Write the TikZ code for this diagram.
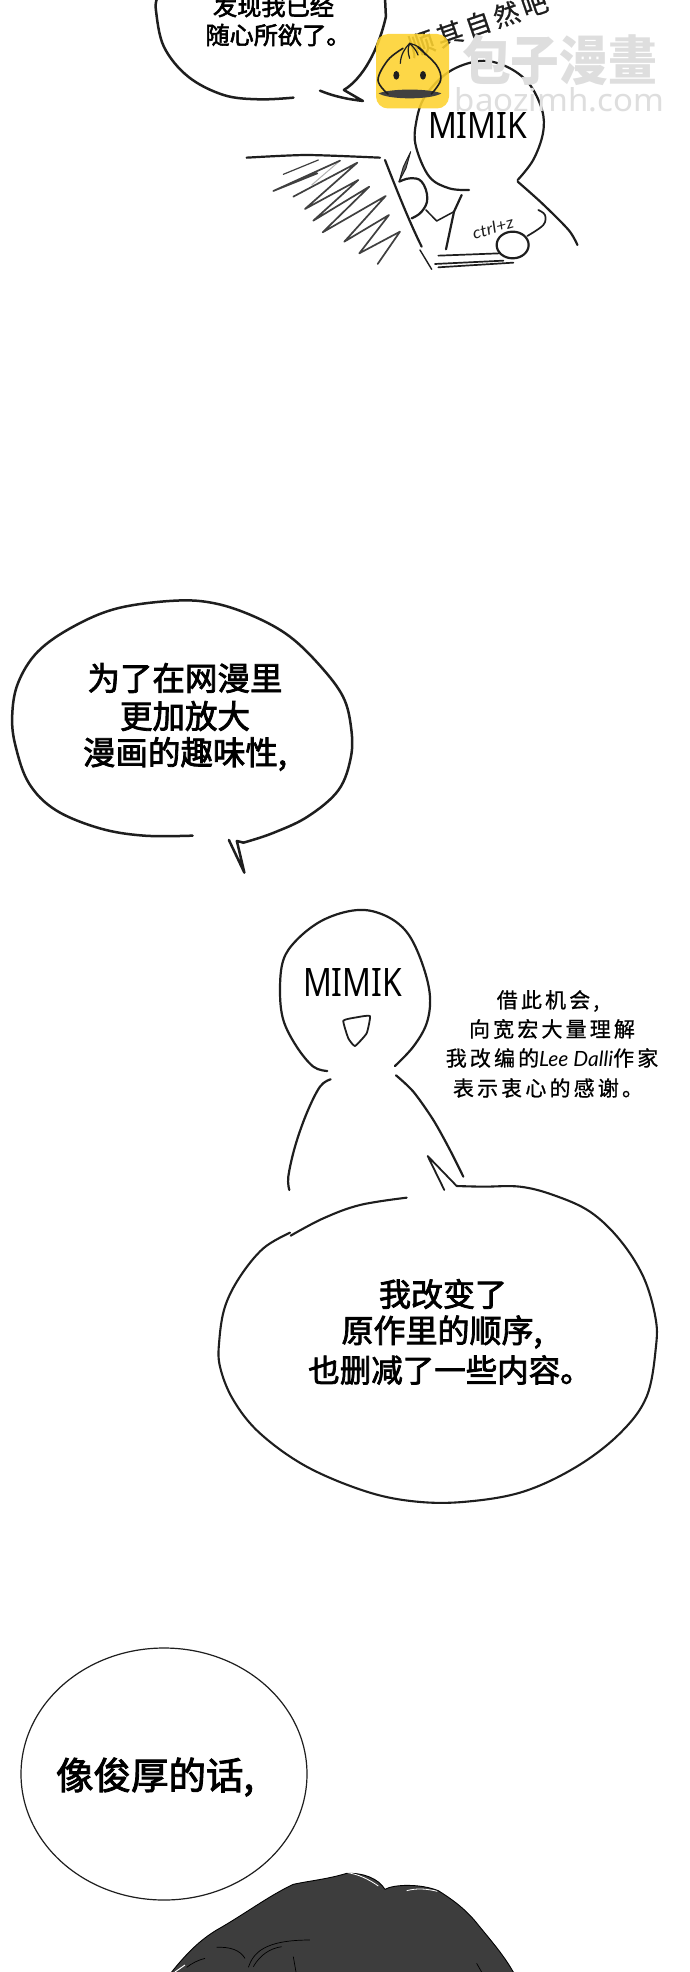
\documentclass[tikz,border=0pt]{standalone}
\usepackage{fontspec}
\setmainfont{Noto Sans}
\newfontfamily\cjkm[FakeBold=2.4]{Noto Sans CJK SC}
\newfontfamily\cjkh[LetterSpace=15,FakeBold=0.8]{Noto Sans CJK SC}
\newfontfamily\cjkwm{Noto Sans CJK SC}
\newfontfamily\latw[ItalicFont=Lato Italic]{Lato}
\newcommand\pxsize[1]{\fontsize{#1pt}{#1pt}\selectfont}
\definecolor{ink}{HTML}{1E1E1E}
\definecolor{hairfill}{HTML}{3D3D3D}
\definecolor{bunyellow}{HTML}{FDD22E}
\definecolor{wmgray}{HTML}{DEDEDE}
\tikzset{
  x=1pt,y=-1pt,
  balloon/.style={draw=ink,line width=2.5pt,line cap=round,line join=round},
  sketch/.style={draw=ink,line width=2.2pt,line cap=round,line join=round},
  speech/.style={inner sep=0pt,text=black},
  handtext/.style={inner sep=0pt,text=black},
  scribble/.style={draw=ink!85!white,line width=1.7pt,line cap=round,line join=round},
  cropA/.style={shift={(-2,0)},xscale=0.4423,yscale=0.3333},
  cropB/.style={shift={(-2,580)},xscale=0.4423,yscale=0.3333},
  cropC/.style={shift={(200,890)},xscale=0.3333,yscale=0.3333},
  cropD/.style={shift={(200,1170)},xscale=0.3333,yscale=0.3333},
  cropE/.style={shift={(150,1850)},xscale=0.3333,yscale=0.3333},
  cropF/.style={shift={(380,140)},xscale=0.3333,yscale=0.3333},
  cropG/.style={shift={(368,0)},xscale=0.3333,yscale=0.3333},
  cropH/.style={shift={(240,140)},xscale=0.3333,yscale=0.3333},
}
\begin{document}
\begin{tikzpicture}
\useasboundingbox (0,0) rectangle (690,1972);
\fill[white] (0,0) rectangle (690,1972);

% top balloon
\begin{scope}[cropA]
\draw[balloon] plot[smooth,tension=.6] coordinates {(360,-5)(357,30)(375,140)(430,230)(510,285)(590,298)(668,293)};
\draw[balloon] (728,272) .. controls (765,292) and (795,298) .. (825,303) -- (782,270)
  .. controls (825,235) and (860,150) .. (877,50) -- (875,-5);
\end{scope}
\node[speech,font=\cjkm\pxsize{24.2}] (t1a) at (273.5,6) {发现我已经};
\node[speech,font=\cjkm\pxsize{24.2}] (t1b) at (278,35) {随心所欲了。};

% handwritten remark behind the badge
\node[handtext,font=\cjkh\pxsize{26},rotate=19,text=ink] (t2) at (478,24) {顺其自然吧};

% sketch character at the desk
\begin{scope}[cropA]
\draw[sketch] plot[smooth,tension=.6] coordinates {(1065,570)(1020,565)(975,530)(945,440)(945,370)(965,290)(1020,215)(1090,183)(1150,200)(1200,250)(1230,330)(1232,400)(1210,480)(1175,540)};
\draw[sketch] plot[smooth,tension=.5] coordinates {(1175,545)(1230,610)(1290,690)(1310,735)};
\end{scope}
\begin{scope}[cropH]
\draw[sketch] plot[smooth,tension=.4] coordinates {(20,53)(200,45)(420,53)};
\draw[scribble,line width=1.2pt] (235,60) -- (130,103);
\draw[scribble,draw=ink!35!white,line width=1pt] (300,62) -- (215,135);
\draw[scribble,draw=ink!35!white,line width=1pt] (300,62) -- (100,153);
\draw[scribble] (300,62) -- (100,153) -- (232,100);
\draw[scribble] (160,170) -- (352,68) -- (195,207) -- (355,120) -- (220,242) -- (388,140) -- (248,277) -- (437,168) -- (313,305) -- (447,225) -- (358,340) -- (480,275) -- (413,372);
\end{scope}
\begin{scope}[cropF]
\draw[sketch] (15,60) .. controls (50,150) and (90,250) .. (125,320);
\draw[sketch,line width=1.4pt] (120,330) -- (155,388);
\filldraw[sketch,line width=.9pt,fill=ink!70!white] (92,35) -- (70,80) -- (57,125) -- (78,85) -- cycle;
\draw[sketch] plot[smooth,tension=.7] coordinates {(58,125)(90,115)(125,125)(142,175)(125,215)(95,235)};
\draw[sketch,line width=1.5pt] (138,210) -- (170,243) -- (222,215);
\draw[sketch] (245,165) -- (222,215) -- (198,328);
\draw[sketch,line width=1.7pt] plot[smooth,tension=.6] coordinates {(475,210)(495,225)(490,255)(442,288)};
\draw[sketch] (398,315) ellipse [x radius=48,y radius=40];
\draw[sketch,line width=1.7pt] (175,347) -- (360,340);
\draw[sketch,line width=1.7pt] (165,372) -- (370,362);
\draw[sketch,line width=1.7pt] (175,382) -- (400,368);
\end{scope}
\node[inner sep=0pt,rotate=16,text=ink] (t3) at (493,228) {\resizebox{42pt}{12pt}{\latw\itshape ctrl+z}};
\node[inner sep=0pt,text=black] (t4) at (477.5,125) {\resizebox{99pt}{26pt}{MIMIK}};

% badge
\fill[bunyellow,fill opacity=.88,rounded corners=12pt] (376,34) rectangle (449,108.5);
\begin{scope}[cropG]
\fill[ink!85!white] (32,280) .. controls (70,265) and (180,265) .. (220,280) .. controls (190,300) and (60,300) .. (32,280) -- cycle;
\draw[ink,line width=1.6pt,line cap=round] plot[smooth,tension=.6] coordinates {(105,145)(60,180)(30,240)(60,282)};
\draw[ink,line width=1.6pt,line cap=round] plot[smooth,tension=.6] coordinates {(150,142)(205,195)(218,240)(190,282)};
\draw[ink,line width=1.2pt,line cap=round] (125,130) .. controls (110,145) and (98,165) .. (97,190);
\draw[ink,line width=1.2pt,line cap=round] (125,130) .. controls (118,145) and (120,160) .. (125,175);
\draw[ink,line width=1.2pt,line cap=round] (125,130) .. controls (135,140) and (145,150) .. (150,165);
\draw[ink,line width=1.2pt,line cap=round] (125,130) .. controls (145,135) and (165,145) .. (172,165);
\fill[ink] (85,226) ellipse [x radius=9,y radius=13];
\fill[ink] (165,226) ellipse [x radius=9,y radius=13];
\end{scope}

% watermark
\node[inner sep=0pt,text=wmgray] (w1) at (559.5,60) {\resizebox{195pt}{46pt}{\cjkwm\bfseries 包子漫畫}};
\node[inner sep=0pt,text=wmgray] (w2) at (559.5,100) {\resizebox{209pt}{24pt}{baozimh.com}};

% second balloon
\begin{scope}[cropB]
\draw[balloon] plot[smooth,tension=.6] coordinates {(440,767)(330,767)(230,745)(130,690)(70,610)(40,500)(32,410)(45,310)(90,215)(170,140)(270,85)(400,62)(490,70)(580,110)(660,170)(730,260)(780,350)(798,440)(798,530)(770,630)(700,710)(620,760)(555,788)};
\draw[balloon] (555,788) -- (540,783) -- (557,878) -- (522,780);
\end{scope}
\node[speech,font=\cjkm\pxsize{32.5}] (t5a) at (185,678) {为了在网漫里};
\node[speech,font=\cjkm\pxsize{32.5}] (t5b) at (185,716) {更加放大};
\node[speech,font=\cjkm\pxsize{32.5}] (t5c) at (185,754) {漫画的趣味性,};

% standing character
\begin{scope}[cropC]
\draw[sketch] plot[smooth,tension=.6] coordinates {(382,543)(340,530)(290,470)(250,390)(240,300)(250,210)(290,150)(360,95)(440,65)(510,62)(580,90)(630,140)(670,230)(690,320)(680,400)(640,470)(585,528)};
\draw[sketch,line width=1.8pt] plot[smooth cycle,tension=.25] coordinates {(430,392)(470,382)(510,378)(500,430)(465,468)(445,445)};
\draw[sketch] plot[smooth,tension=.6] coordinates {(392,568)(360,590)(320,670)(285,770)(265,860)(268,900)};
\draw[sketch] plot[smooth,tension=.5] coordinates {(588,556)(640,605)(700,690)(750,780)(790,860)};
\draw[balloon,line width=1.8pt] (733,900) -- (683,798) -- (770,888);
\end{scope}
\node[inner sep=0pt,text=black] (t6) at (352.5,982) {\resizebox{99pt}{28pt}{MIMIK}};
\node[handtext,font=\cjkh\pxsize{21}] (t7a) at (548,1001) {借此机会,};
\node[handtext,font=\cjkh\pxsize{21}] (t7b) at (552,1029) {向宽宏大量理解};
\node[handtext,font=\cjkh\pxsize{21}] (t7c) at (552,1058) {我改编的{\latw\itshape Lee Dalli}作家};
\node[handtext,font=\cjkh\pxsize{21}] (t7d) at (548,1088) {表示衷心的感谢。};

% third balloon
\begin{scope}[cropD]
\draw[balloon,line width=2.1pt] plot[smooth,tension=.6] coordinates {(770,48)(850,50)(960,50)(1060,75)(1170,125)(1260,210)(1330,320)(1366,440)(1368,530)(1340,680)(1260,790)(1130,890)(970,965)(800,995)(650,995)(500,965)(320,890)(180,790)(100,690)(60,590)(58,510)(75,410)(120,320)(190,235)(270,188)};
\draw[balloon,line width=2.1pt] plot[smooth,tension=.6] coordinates {(272,197)(370,145)(480,105)(620,83)};
\end{scope}
\node[speech,font=\cjkm\pxsize{32}] (t8a) at (443,1294) {我改变了};
\node[speech,font=\cjkm\pxsize{32}] (t8b) at (442,1332) {原作里的顺序,};
\node[speech,font=\cjkm\pxsize{31.5}] (t8c) at (450,1370) {也删减了一些内容。};

% thin balloon
\draw[ink,line width=1.2pt] (164,1774) ellipse [x radius=143,y radius=126];
\node[speech,font=\cjkm\pxsize{37.5}] (t9) at (155,1777) {像俊厚的话,};

% hair
\begin{scope}[cropE]
\filldraw[fill=hairfill,draw=black,line width=.9pt,line join=round]
 (55,375) -- (65,366) .. controls (110,310) and (150,270) .. (200,240)
 .. controls (280,195) and (360,135) .. (430,103)
 .. controls (480,92) and (530,88) .. (590,70)
 .. controls (640,68) and (685,85) .. (705,118)
 .. controls (730,103) and (810,100) .. (865,122)
 .. controls (910,150) and (950,180) .. (985,225)
 .. controls (1030,280) and (1065,320) .. (1095,375) -- cycle;
\draw[white,line width=.8pt] (592,68) .. controls (625,72) and (660,90) .. (685,108);
\draw[white,line width=.8pt] (770,122) .. controls (800,114) and (830,116) .. (862,124);
\draw[black,line width=.7pt] (200,292) .. controls (240,290) and (270,300) .. (285,325);
\draw[black,line width=.7pt] (295,352) .. controls (310,310) and (340,270) .. (480,270);
\draw[black,line width=.7pt] (310,350) .. controls (330,315) and (360,295) .. (395,290);
\draw[black,line width=.7pt] (430,320) -- (438,366);
\draw[black,line width=.7pt] (110,352) .. controls (125,340) and (145,330) .. (165,325);
\draw[white,line width=1pt] (75,366) -- (105,345);
\draw[black,line width=.7pt] (980,340) -- (995,366);
\end{scope}
\end{tikzpicture}
\end{document}
